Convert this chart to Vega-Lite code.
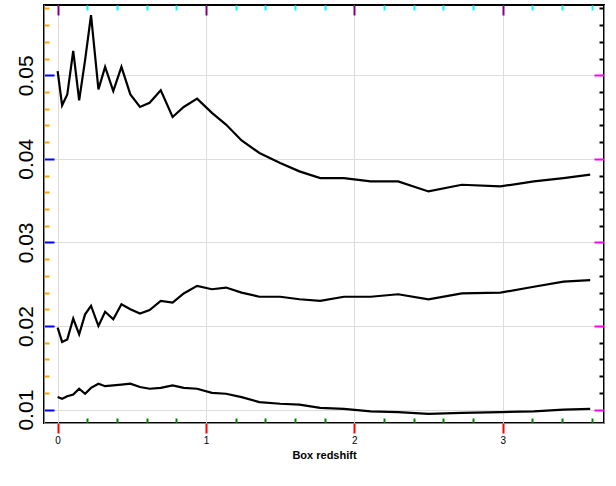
{
  "$schema": "https://vega.github.io/schema/vega-lite/v6.json",
  "width": 560,
  "height": 418,
  "autosize": "none",
  "padding": {"left": 44, "top": 5, "right": 12, "bottom": 63},
  "background": "white",
  "config": {
    "view": {"stroke": "black", "strokeWidth": 2},
    "font": "Liberation Sans"
  },
  "data": {
    "values": [
      {"z": 0, "s": "a", "v": 0.0505}, {"z": 0.03, "s": "a", "v": 0.0464}, {"z": 0.065, "s": "a", "v": 0.0477},
      {"z": 0.105, "s": "a", "v": 0.0529}, {"z": 0.145, "s": "a", "v": 0.047}, {"z": 0.185, "s": "a", "v": 0.0518},
      {"z": 0.225, "s": "a", "v": 0.0572}, {"z": 0.275, "s": "a", "v": 0.0483}, {"z": 0.32, "s": "a", "v": 0.051},
      {"z": 0.375, "s": "a", "v": 0.0481}, {"z": 0.43, "s": "a", "v": 0.051}, {"z": 0.49, "s": "a", "v": 0.0477},
      {"z": 0.555, "s": "a", "v": 0.0462}, {"z": 0.62, "s": "a", "v": 0.0467}, {"z": 0.695, "s": "a", "v": 0.0482},
      {"z": 0.775, "s": "a", "v": 0.045}, {"z": 0.85, "s": "a", "v": 0.0462}, {"z": 0.94, "s": "a", "v": 0.0472},
      {"z": 1.04, "s": "a", "v": 0.0455}, {"z": 1.135, "s": "a", "v": 0.0441}, {"z": 1.24, "s": "a", "v": 0.0422},
      {"z": 1.36, "s": "a", "v": 0.0407}, {"z": 1.5, "s": "a", "v": 0.0395}, {"z": 1.63, "s": "a", "v": 0.0385},
      {"z": 1.77, "s": "a", "v": 0.0377}, {"z": 1.93, "s": "a", "v": 0.0377}, {"z": 2.11, "s": "a", "v": 0.0373},
      {"z": 2.295, "s": "a", "v": 0.0373}, {"z": 2.5, "s": "a", "v": 0.0361}, {"z": 2.725, "s": "a", "v": 0.0369},
      {"z": 2.985, "s": "a", "v": 0.0367}, {"z": 3.21, "s": "a", "v": 0.0373}, {"z": 3.41, "s": "a", "v": 0.0377},
      {"z": 3.59, "s": "a", "v": 0.0381},
      {"z": 0, "s": "b", "v": 0.0198}, {"z": 0.03, "s": "b", "v": 0.0181}, {"z": 0.065, "s": "b", "v": 0.0184},
      {"z": 0.105, "s": "b", "v": 0.0209}, {"z": 0.145, "s": "b", "v": 0.019}, {"z": 0.185, "s": "b", "v": 0.0214},
      {"z": 0.225, "s": "b", "v": 0.0224}, {"z": 0.275, "s": "b", "v": 0.02}, {"z": 0.32, "s": "b", "v": 0.0217},
      {"z": 0.375, "s": "b", "v": 0.0208}, {"z": 0.43, "s": "b", "v": 0.0226}, {"z": 0.49, "s": "b", "v": 0.022},
      {"z": 0.555, "s": "b", "v": 0.0215}, {"z": 0.62, "s": "b", "v": 0.0219}, {"z": 0.695, "s": "b", "v": 0.023},
      {"z": 0.775, "s": "b", "v": 0.0228}, {"z": 0.85, "s": "b", "v": 0.0239}, {"z": 0.94, "s": "b", "v": 0.0248},
      {"z": 1.04, "s": "b", "v": 0.0244}, {"z": 1.135, "s": "b", "v": 0.0246}, {"z": 1.24, "s": "b", "v": 0.024},
      {"z": 1.36, "s": "b", "v": 0.0235}, {"z": 1.5, "s": "b", "v": 0.0235}, {"z": 1.63, "s": "b", "v": 0.0232},
      {"z": 1.77, "s": "b", "v": 0.023}, {"z": 1.93, "s": "b", "v": 0.0235}, {"z": 2.11, "s": "b", "v": 0.0235},
      {"z": 2.295, "s": "b", "v": 0.0238}, {"z": 2.5, "s": "b", "v": 0.0232}, {"z": 2.725, "s": "b", "v": 0.0239},
      {"z": 2.985, "s": "b", "v": 0.024}, {"z": 3.21, "s": "b", "v": 0.0247}, {"z": 3.41, "s": "b", "v": 0.0253},
      {"z": 3.59, "s": "b", "v": 0.0255},
      {"z": 0, "s": "c", "v": 0.0115}, {"z": 0.03, "s": "c", "v": 0.0113}, {"z": 0.065, "s": "c", "v": 0.0116},
      {"z": 0.105, "s": "c", "v": 0.0118}, {"z": 0.145, "s": "c", "v": 0.0125}, {"z": 0.185, "s": "c", "v": 0.0119},
      {"z": 0.225, "s": "c", "v": 0.0126}, {"z": 0.275, "s": "c", "v": 0.0131}, {"z": 0.32, "s": "c", "v": 0.0128},
      {"z": 0.375, "s": "c", "v": 0.0129}, {"z": 0.43, "s": "c", "v": 0.013}, {"z": 0.49, "s": "c", "v": 0.0131},
      {"z": 0.555, "s": "c", "v": 0.0127}, {"z": 0.62, "s": "c", "v": 0.0125}, {"z": 0.695, "s": "c", "v": 0.0126},
      {"z": 0.775, "s": "c", "v": 0.0129}, {"z": 0.85, "s": "c", "v": 0.0126}, {"z": 0.94, "s": "c", "v": 0.0125},
      {"z": 1.04, "s": "c", "v": 0.012}, {"z": 1.135, "s": "c", "v": 0.0119}, {"z": 1.24, "s": "c", "v": 0.0115},
      {"z": 1.36, "s": "c", "v": 0.0109}, {"z": 1.5, "s": "c", "v": 0.0107}, {"z": 1.63, "s": "c", "v": 0.0106},
      {"z": 1.77, "s": "c", "v": 0.0102}, {"z": 1.93, "s": "c", "v": 0.0101}, {"z": 2.11, "s": "c", "v": 0.0098},
      {"z": 2.295, "s": "c", "v": 0.0097}, {"z": 2.5, "s": "c", "v": 0.0095}, {"z": 2.725, "s": "c", "v": 0.0096},
      {"z": 2.985, "s": "c", "v": 0.0097}, {"z": 3.21, "s": "c", "v": 0.0098}, {"z": 3.41, "s": "c", "v": 0.01},
      {"z": 3.59, "s": "c", "v": 0.0101}
    ]
  },
  "layer": [
    {
      "mark": {"type": "line", "color": "black", "strokeWidth": 2.2},
      "encoding": {
        "x": {
          "field": "z", "type": "quantitative",
          "scale": {"domain": [-0.092, 3.683], "nice": false, "zero": false},
          "axis": {"orient": "bottom", "values": [0, 1, 2, 3], "tickSize": 10, "tickColor": "red", "tickWidth": 2, "ticks": true, "title": "Box redshift"}
        },
        "y": {
          "field": "v", "type": "quantitative",
          "scale": {"domain": [0.0084, 0.0584], "nice": false, "zero": false},
          "axis": {
            "orient": "left", "values": [0.01, 0.02, 0.03, 0.04, 0.05], "format": ".2f",
            "tickSize": -10, "tickColor": "blue", "tickWidth": 2, "ticks": true,
            "labelFontSize": 21, "labelAngle": -90, "labelAlign": "center", "labelBaseline": "alphabetic", "labelPadding": 22,
            "title": null
          }
        },
        "detail": {"field": "s", "type": "nominal"}
      }
    },
    {
      "mark": {"type": "point", "opacity": 0},
      "encoding": {
        "x": {
          "field": "z", "type": "quantitative",
          "scale": {"domain": [-0.092, 3.683], "nice": false, "zero": false},
          "axis": {
            "orient": "bottom", "values": [0.2, 0.4, 0.6, 0.8, 1.2, 1.4, 1.6, 1.8, 2.2, 2.4, 2.6, 2.8, 3.2, 3.4, 3.6],
            "tickSize": -5, "tickColor": "green", "tickWidth": 2, "ticks": true, "labels": false, "title": null
          }
        },
        "y": {
          "field": "v", "type": "quantitative",
          "scale": {"domain": [0.0084, 0.0584], "nice": false, "zero": false},
          "axis": {
            "orient": "left",
            "values": [0.012, 0.014, 0.016, 0.018, 0.022, 0.024, 0.026, 0.028, 0.032, 0.034, 0.036, 0.038, 0.042, 0.044, 0.046, 0.048, 0.052, 0.054, 0.056, 0.058],
            "tickSize": -5, "tickColor": "orange", "tickWidth": 2, "ticks": true, "grid": false, "labels": false, "title": null
          }
        }
      }
    },
    {
      "mark": {"type": "point", "opacity": 0},
      "encoding": {
        "x": {
          "field": "z", "type": "quantitative",
          "scale": {"domain": [-0.092, 3.683], "nice": false, "zero": false},
          "axis": {"orient": "top", "values": [0, 1, 2, 3], "tickSize": -10, "tickColor": "purple", "tickWidth": 2, "ticks": true, "domain": false, "labels": false, "title": null}
        },
        "y": {
          "field": "v", "type": "quantitative",
          "scale": {"domain": [0.0084, 0.0584], "nice": false, "zero": false},
          "axis": {"orient": "right", "values": [0.01, 0.02, 0.03, 0.04, 0.05], "tickSize": -10, "tickColor": "magenta", "tickWidth": 2, "ticks": true, "gridOpacity": 0, "labels": false, "title": null}
        }
      }
    },
    {
      "mark": {"type": "point", "opacity": 0},
      "encoding": {
        "x": {
          "field": "z", "type": "quantitative",
          "scale": {"domain": [-0.092, 3.683], "nice": false, "zero": false},
          "axis": {
            "orient": "top", "values": [0.2, 0.4, 0.6, 0.8, 1.2, 1.4, 1.6, 1.8, 2.2, 2.4, 2.6, 2.8, 3.2, 3.4, 3.6],
            "tickSize": -5, "tickColor": "cyan", "tickWidth": 2, "ticks": true, "domainOpacity": 0, "labels": false, "title": null
          }
        },
        "y": {
          "field": "v", "type": "quantitative",
          "scale": {"domain": [0.0084, 0.0584], "nice": false, "zero": false},
          "axis": {
            "orient": "right",
            "values": [0.012, 0.014, 0.016, 0.018, 0.022, 0.024, 0.026, 0.028, 0.032, 0.034, 0.036, 0.038, 0.042, 0.044, 0.046, 0.048, 0.052, 0.054, 0.056, 0.058],
            "tickSize": -5, "tickColor": "black", "tickWidth": 2, "ticks": true, "labels": false, "title": null
          }
        }
      }
    }
  ],
  "resolve": {"axis": {"x": "independent", "y": "independent"}}
}
